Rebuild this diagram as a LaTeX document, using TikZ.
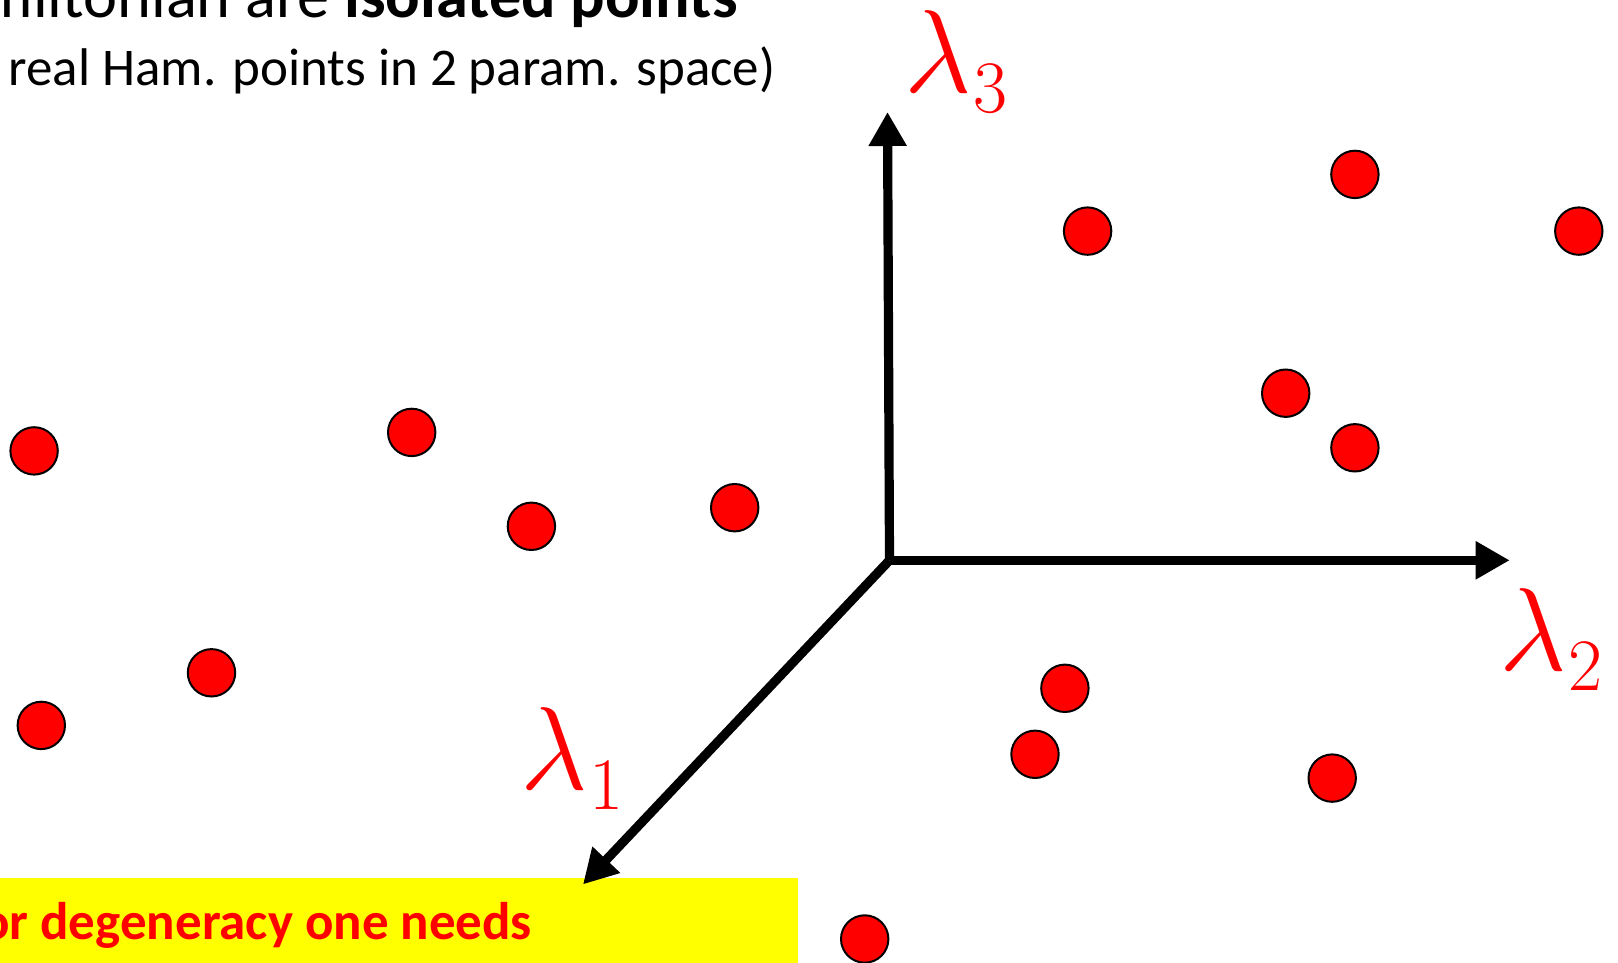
\RequirePackage{fix-cm}
\documentclass[tikz,border=0pt]{standalone}
\usepackage{fontspec}
\setmainfont{Carlito}
\newfontfamily\lmr{Latin Modern Roman}
\usetikzlibrary{arrows.meta}
\definecolor{yel}{RGB}{255,255,0}
\definecolor{rd}{RGB}{255,0,0}
\newcommand{\lam}[1]{\fontsize{59}{60}\selectfont$\lambda$\kern1pt\raisebox{-10pt}{\lmr\fontsize{37}{39}\selectfont #1}}
\begin{document}
\begin{tikzpicture}[x=0.5pt,y=-0.5pt,
  dot/.style={circle,fill=rd,draw=black,line width=1pt,minimum size=23.7pt,inner sep=0pt},
  axis/.style={line width=4.6pt,-{Triangle[length=17pt,width=18pt]}},
  lab/.style={text=rd,inner sep=0pt,anchor=base west},
  txt/.style={inner sep=0pt,font=\fontsize{26.5}{32}\selectfont}]
\useasboundingbox (0,0) rectangle (1618,963);
\clip (0,0) rectangle (1618,963);
% text
\node[inner sep=0pt,font=\fontsize{32.2}{38}\selectfont,anchor=base east] (l1) at (738,18) {Hamiltonian are \textbf{isolated points}};
\node[txt,anchor=base west] (l2) at (8.3,86) {real Ham. points in 2 param. space)};
% yellow box
\node[fill=yel,inner sep=0pt,anchor=north west,minimum width=398.85pt,minimum height=50pt] (box) at (0,878) {};
\node[txt,anchor=base east,text=rd,font=\fontsize{26.5}{32}\selectfont\bfseries] (need) at (532.5,939) {For degeneracy one needs};
% axes
\coordinate (O) at (889.5,560.3);
\coordinate (T3) at (887.5,112);
\coordinate (T2) at (1509.7,560.3);
\coordinate (T1) at (583,884.4);
\draw[axis] (O) -- (T3);
\draw[axis] (O) -- (T2);
\draw[axis] (O) -- (T1);
% labels
\node[lab] (L3) at (904,93) {\lam{3}};
\node[lab] (L2) at (1499,670.7) {\lam{2}};
\node[lab] (L1) at (520,789) {\lam{1}};
% dots
\node[dot] (d1) at (34.1,450.9) {};
\node[dot] (d2) at (411.7,432.4) {};
\node[dot] (d3) at (531.4,526.3) {};
\node[dot] (d4) at (734.7,507.7) {};
\node[dot] (d5) at (211.5,672.8) {};
\node[dot] (d6) at (41.3,725.4) {};
\node[dot] (d7) at (1087.6,231.1) {};
\node[dot] (d8) at (1354.9,174.4) {};
\node[dot] (d9) at (1578.8,231.1) {};
\node[dot] (d10) at (1285.7,393.2) {};
\node[dot] (d11) at (1354.9,447.8) {};
\node[dot] (d12) at (1064.9,688.3) {};
\node[dot] (d13) at (1035.0,754.3) {};
\node[dot] (d14) at (1332.2,778.1) {};
\node[dot] (d15) at (864.7,939.0) {};
\end{tikzpicture}
\end{document}
